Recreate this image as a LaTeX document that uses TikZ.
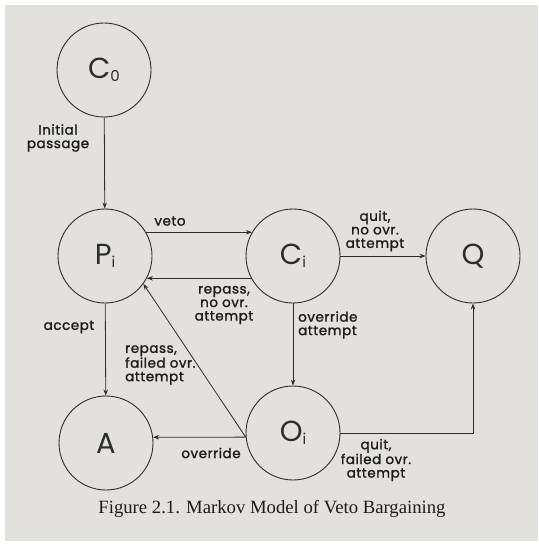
\documentclass[tikz,border=0pt]{standalone}
\usepackage{fontspec}
\setmainfont{Liberation Serif}
\newfontfamily\lab{Poppins}
\newfontfamily\labb{Poppins}[FakeBold=1.4,LetterSpace=4]
\usetikzlibrary{arrows.meta}
\definecolor{paper}{RGB}{226,225,221}
\definecolor{ink}{RGB}{45,45,45}
\definecolor{capink}{RGB}{28,28,28}
\newcommand\subx[1]{\raisebox{-3pt}{\fontsize{15}{15}\selectfont #1}}
\begin{document}
\begin{tikzpicture}[x=1pt,y=-1pt,
  state/.style={circle,draw=ink,line width=0.9pt,minimum size=94pt,inner sep=0pt,
    font=\lab\fontsize{29}{30}\selectfont,text=ink},
  edge/.style={draw=ink,line width=0.8pt,-{Stealth[length=6pt,width=4.5pt]}},
  lbl/.style={font=\labb\fontsize{13.5}{13.5}\selectfont,text=capink,align=center,inner sep=0pt}]
\fill[white] (0,0) rectangle (538,545);
\fill[paper] (5,5) rectangle (538,541);
\useasboundingbox (0,0) rectangle (538,545);
% states
\node[state] (C0) at (104,70) {C\subx{0}};
\node[state] (P)  at (105,256) {P\subx{i}};
\node[state] (Ci) at (293,256) {C\subx{i}};
\node[state] (Q)  at (473,256) {Q};
\node[state] (A)  at (106,443) {A};
\node[state] (O)  at (293,433) {O\subx{i}};
% connectors
\draw[edge] (C0) -- (P);
\draw[edge] (P.30) -- (Ci.150);
\draw[edge] (Ci) -- (Q);
\draw[edge] (Ci.208) -- (P.-28);
\draw[edge] (P) -- (A);
\draw[edge] (Ci) -- (O);
\draw[edge] (O.185) -- (A.7);
\draw[edge] (O.185) -- (P.-36);
\draw[edge] (O.east) -| (Q.south);
% labels
\node[lbl] (l1) at (58,138) {Initial\\passage};
\node[lbl] (l2) at (170,221) {veto};
\node[lbl] (l3) at (375,231) {quit,\\no ovr.\\attempt};
\node[lbl] (l4) at (224,305) {repass,\\no ovr.\\attempt};
\node[lbl] (l5) at (69,327) {accept};
\node[lbl,align=left,anchor=west] (l6) at (125,365) {repass,\\failed ovr.\\attempt};
\node[lbl] (l7) at (211,453) {override};
\node[lbl,align=left,anchor=west] (l8) at (298,325) {override\\attempt};
\node[lbl] (l9) at (376,460) {quit,\\failed ovr.\\attempt};
% caption
\node[anchor=base,font=\fontsize{18.7}{20}\selectfont,text=capink,inner sep=0pt] (cap) at (272,513)
  {Figure 2.1. Markov Model of Veto Bargaining};
\end{tikzpicture}
\end{document}
